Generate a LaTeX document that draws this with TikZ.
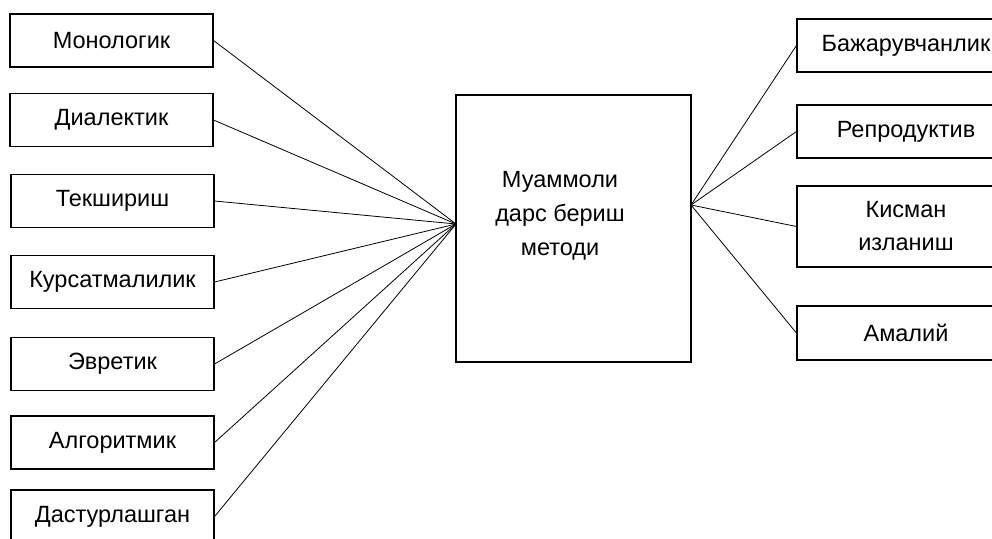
\documentclass[tikz,border=0pt]{standalone}
\usepackage{fontspec}
\setmainfont{Liberation Sans}
\begin{document}
\begin{tikzpicture}[x=1pt,y=-1pt,
  box/.style={draw,line width=1.1pt,minimum height=53pt,inner sep=0pt,
    font=\fontsize{23.5}{33}\selectfont},
  lbox/.style={box,minimum width=203pt},
  rbox/.style={box,minimum width=218pt,align=center},
  link/.style={line width=0.8pt}]
\useasboundingbox (0,0) rectangle (992,538);
\clip (0,0) rectangle (992,538);
\fill[white] (0,0) rectangle (992,538);
% left column
\node[lbox] (l1) at (111.5,40.5) {Монологик};
\node[lbox] (l2) at (111.5,120) {Диалектик};
\node[lbox] (l3) at (112.5,201) {Текшириш};
\node[lbox] (l4) at (112.5,282) {Курсатмалилик};
\node[lbox] (l5) at (112.5,364) {Эвретик};
\node[lbox] (l6) at (112.5,442.5) {Алгоритмик};
\node[lbox] (l7) at (112.5,516.5) {Дастурлашган};
% central box
\node[draw,line width=1.1pt,minimum width=235pt,minimum height=267pt,inner sep=0pt] (cb) at (573.5,228.5) {};
\node[align=center,font=\fontsize{23.5}{34}\selectfont] (ct) at (560,216) {Муаммоли\\дарс бериш\\методи};
\coordinate (lj) at (456,224);
\coordinate (rj) at (691,205);
% right column
\node[rbox] (r1) at (906,45.5) {Бажарувчанлик};
\node[rbox] (r2) at (906,131.5) {Репродуктив};
\node[rbox,minimum height=81pt] (r3) at (906,226.5) {Кисман\\изланиш};
\node[rbox,minimum height=54pt] (r4) at (906,333) {Амалий};
% connectors
\foreach \n in {l1,l2,l3,l4,l5,l6,l7}
  \draw[link] (\n.east) -- (lj);
\foreach \n in {r1,r2,r3,r4}
  \draw[link] (rj) -- (\n.west);
\end{tikzpicture}
\end{document}
